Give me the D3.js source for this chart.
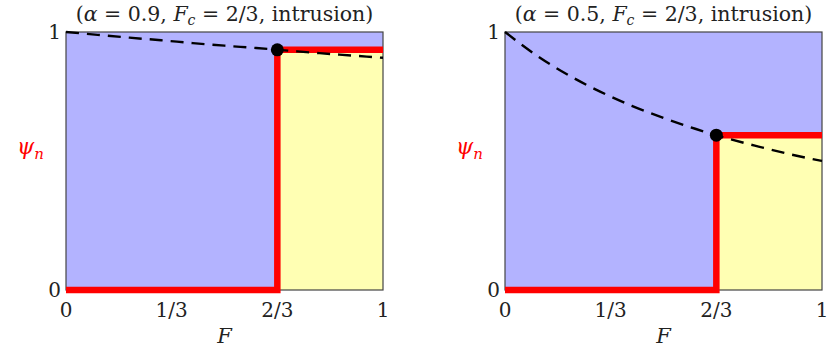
<!DOCTYPE html>
<html>
<head>
<meta charset="utf-8">
<script src="https://cdn.jsdelivr.net/npm/d3@7"></script>
<style>
  body { margin: 0; background: #fff; }
  svg text { font-family: "DejaVu Serif", "Liberation Serif", serif; fill: #222; }
</style>
</head>
<body>
<div id="chart"></div>
<script>
"use strict"

// panel parameters
var alphas = ["0.9", "0.5"];
var fcLabel = "2/3";
var Fc = 2 / 3;

// dashed curve at F = 0, 0.1, ..., 1
var curveF = [0, 0.1, 0.2, 0.3, 0.4, 0.5, 0.6, 0.7, 0.8, 0.9, 1];
var curvePsi = [
	[1, 0.989, 0.978, 0.968, 0.957, 0.947, 0.938, 0.928, 0.918, 0.909, 0.9],
	[1, 0.909, 0.833, 0.769, 0.714, 0.667, 0.625, 0.588, 0.556, 0.526, 0.5]
];
// critical point (dot) and step height
var psiC = [0.931, 0.6];

var xTicks = [0, 1/3, 2/3, 1];
var xTickLabels = ["0", "1/3", "2/3", "1"];
var yTicks = [0, 1];
var yTickLabels = ["0", "1"];

var width = 830, height = 357;
var panelLeft = [66, 505], panelW = 317;
var plotTop = 32, plotH = 258;

var svg = d3.select("#chart").append("svg")
	.attr("width", width)
	.attr("height", height);

for (var k = 0; k < 2; k++) {
	var g = svg.append("g").attr("transform", "translate(" + panelLeft[k] + "," + plotTop + ")");

	var x = d3.scaleLinear().domain([0, 1]).range([0, panelW]);
	var y = d3.scaleLinear().domain([0, 1]).range([plotH, 0]);

	// blue background
	g.append("rect")
		.attr("x", x(0)).attr("y", y(1))
		.attr("width", x(1) - x(0)).attr("height", y(0) - y(1))
		.attr("fill", "#b3b3ff");

	// yellow region below the step
	g.append("rect")
		.attr("x", x(Fc)).attr("y", y(psiC[k]))
		.attr("width", x(1) - x(Fc)).attr("height", y(0) - y(psiC[k]))
		.attr("fill", "#ffffb3");

	// frame
	g.append("rect")
		.attr("x", x(0)).attr("y", y(1))
		.attr("width", x(1) - x(0)).attr("height", y(0) - y(1))
		.attr("fill", "none")
		.attr("stroke", "#444")
		.attr("stroke-width", 1.2);

	// red step line
	var step = [[0, 0], [Fc, 0], [Fc, psiC[k]], [1, psiC[k]]];
	g.append("path")
		.attr("d", d3.line().x(function(d) { return x(d[0]); }).y(function(d) { return y(d[1]); })(step))
		.attr("fill", "none")
		.attr("stroke", "#ff0000")
		.attr("stroke-width", 6.5)
		.attr("stroke-linejoin", "miter");

	// dashed curve
	var pts = curveF.map(function(f, i) { return [f, curvePsi[k][i]]; });
	g.append("path")
		.attr("d", d3.line().curve(d3.curveMonotoneX)
			.x(function(d) { return x(d[0]); }).y(function(d) { return y(d[1]); })(pts))
		.attr("fill", "none")
		.attr("stroke", "#000")
		.attr("stroke-width", 2.4)
		.attr("stroke-dasharray", "13,8");

	// dot
	g.append("circle")
		.attr("cx", x(Fc)).attr("cy", y(psiC[k]))
		.attr("r", 6.5)
		.attr("fill", "#000");

	// tick labels
	g.selectAll(".xt").data(xTicks).enter().append("text")
		.attr("x", function(d) { return x(d); })
		.attr("y", plotH + 27)
		.attr("text-anchor", "middle")
		.style("font-size", "20px")
		.text(function(d, i) { return xTickLabels[i]; });

	g.selectAll(".yt").data(yTicks).enter().append("text")
		.attr("x", -5)
		.attr("y", function(d) { return y(d) + 7; })
		.attr("text-anchor", "end")
		.style("font-size", "20px")
		.text(function(d, i) { return yTickLabels[i]; });

	// x label
	g.append("text")
		.attr("x", x(0.5))
		.attr("y", plotH + 53)
		.attr("text-anchor", "middle")
		.style("font-size", "21px")
		.style("font-style", "italic")
		.text("F");

	// y label
	var yl = g.append("text")
		.attr("x", -49)
		.attr("y", 122)
		.style("font-size", "22px")
		.style("fill", "#ff0000");
	yl.append("tspan").style("font-style", "italic").style("fill", "#ff0000").text("ψ");
	yl.append("tspan").attr("dy", 5).style("font-size", "15px").style("font-style", "italic").style("fill", "#ff0000").text("n");

	// title
	var t = g.append("text")
		.attr("x", x(0.5))
		.attr("y", -11)
		.attr("text-anchor", "middle")
		.style("font-size", "20.5px");
	t.append("tspan").text("(");
	t.append("tspan").style("font-style", "italic").text("α");
	t.append("tspan").text(" = " + alphas[k] + ", ");
	t.append("tspan").style("font-style", "italic").text("F");
	t.append("tspan").attr("dy", 4).style("font-size", "14px").style("font-style", "italic").text("c");
	t.append("tspan").attr("dy", -4).text(" = " + fcLabel + ", intrusion)");
}
</script>
</body>
</html>
